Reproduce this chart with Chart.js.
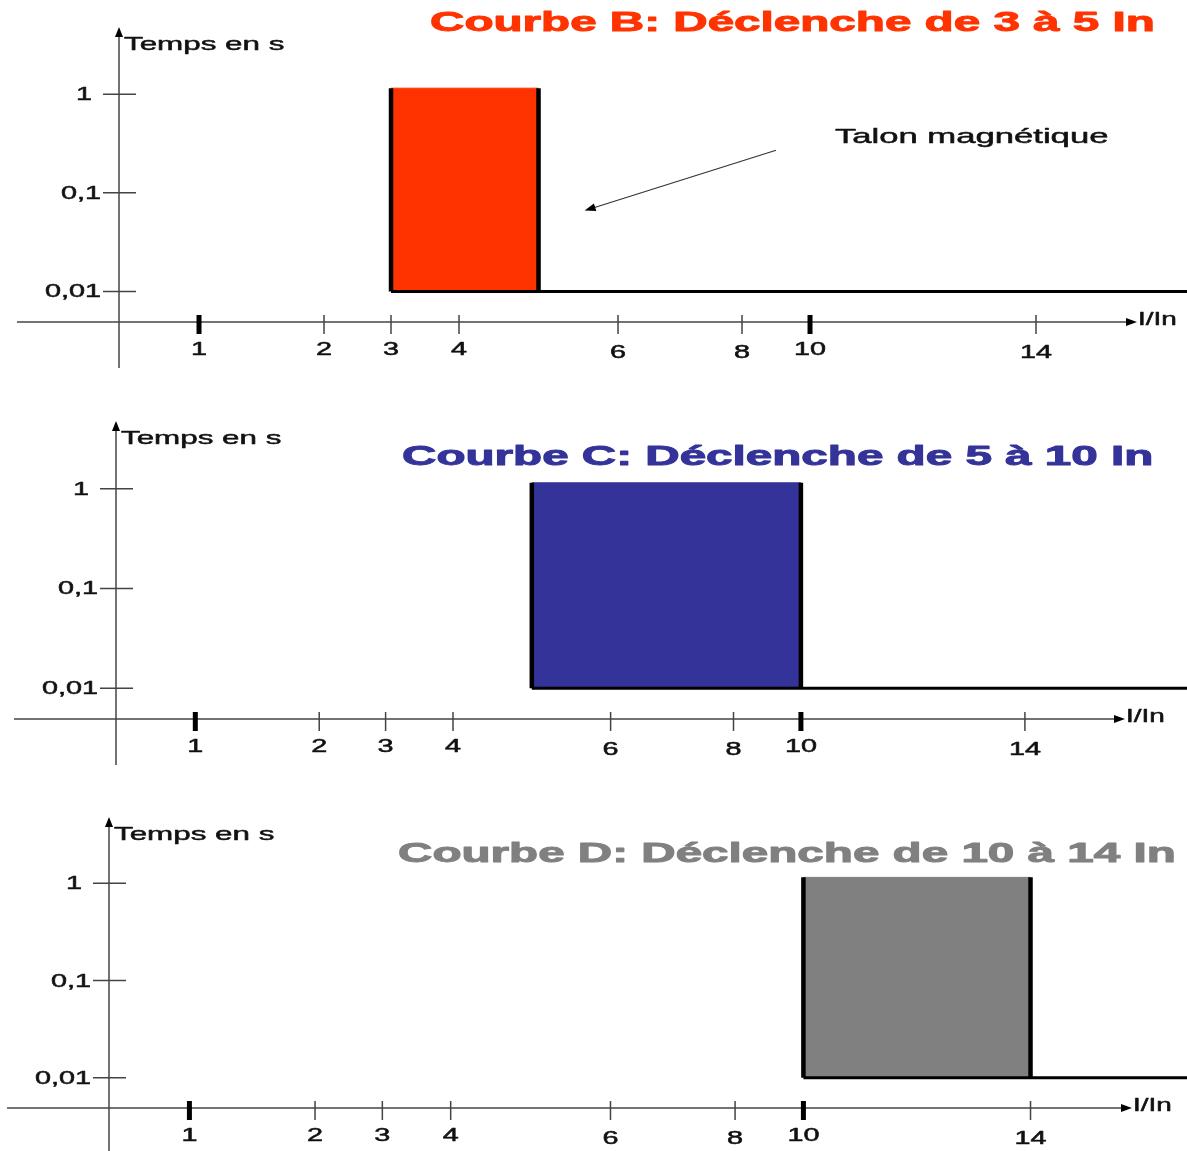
<!DOCTYPE html>
<html lang="fr">
<head>
  <meta charset="UTF-8">
  <title>Courbes de déclenchement</title>
  <script src="https://cdn.jsdelivr.net/npm/chart.js"></script>
  <style>
    body { margin: 0; background: #fff; overflow: hidden; }
    #page { position: relative; width: 1187px; height: 1151px; }
    #page canvas { position: absolute; left: 0; }
  </style>
</head>
<body>
  <div id="page"></div>

  <script>
    // --- données ---
    const courbes = ['B', 'C', 'D'];
    const seuilBas = [3, 5, 10];       // I/In début de zone
    const seuilHaut = [5, 10, 14];     // I/In fin de zone
    const tempsMax = [1.15, 1.15, 1.15];
    const tempsMin = [0.01, 0.01, 0.01];
    const finSeuil = 17.3;             // le trait continue jusqu'au bord
    const couleurs = ['#ff3300', '#333399', '#808080'];
    const titres = [
      'Courbe B: Déclenche de 3 à 5 In',
      'Courbe C: Déclenche de 5 à 10 In',
      'Courbe D: Déclenche de 10 à 14 In'
    ];
    const xTicks = [1, 2, 3, 4, 6, 8, 10, 14];
    const xTicksGras = [1, 10];
    const yTicks = [0.01, 0.1, 1];
    const yLabels = ['0,01', '0,1', '1'];
    const talonTexte = 'Talon magnétique';
    const talonPos = [10.44, 0.318];
    const flecheDe = [9.0, 0.27];
    const flecheVers = [5.58, 0.066];

    // graduation "à main levée" de l'axe I/In : valeur -> fraction de la largeur
    const graduation = [[0, 0], [1, .0786], [2, .2014], [3, .2672], [4, .3340],
                        [6, .4902], [8, .6120], [10, .6788], [14, .9008], [16, 1]];

    class SchemaScale extends Chart.LinearScale {
      fraction(v) {
        const g = graduation;
        let i = 1;
        while (i < g.length - 1 && v > g[i][0]) i++;
        const [v0, f0] = g[i - 1], [v1, f1] = g[i];
        return f0 + (v - v0) * (f1 - f0) / (v1 - v0);
      }
      getPixelForValue(v) {
        return this.left + this.fraction(v) * this.width;
      }
      getValueForPixel(p) {
        const f = (p - this.left) / this.width;
        const g = graduation;
        let i = 1;
        while (i < g.length - 1 && f > g[i][1]) i++;
        const [v0, f0] = g[i - 1], [v1, f1] = g[i];
        return v0 + (f - f0) * (v1 - v0) / (f1 - f0);
      }
    }
    SchemaScale.id = 'schema';
    SchemaScale.defaults = { ticks: { callback: v => String(v) } };
    Chart.register(SchemaScale);

    const W = 1187, H = 385;
    const panneaux = [
      { top: 0,   left: 119, right: 1137, axe: 322, titreX: 430, titreY: 31 },
      { top: 394, left: 116, right: 1125, axe: 325, titreX: 402, titreY: 71 },
      { top: 790, left: 109, right: 1132, axe: 318, titreX: 398, titreY: 72 }
    ];

    // le schéma d'origine est étiré en largeur : on étire le texte aussi
    function texte(ctx, str, x, y, font, color, align, base, etire, epais) {
      ctx.save();
      ctx.font = font;
      ctx.fillStyle = color;
      ctx.strokeStyle = color;
      ctx.lineWidth = epais || 0.5;
      ctx.lineJoin = 'round';
      ctx.textAlign = 'left';
      ctx.textBaseline = base || 'alphabetic';
      const w = ctx.measureText(str).width * etire;
      const x0 = align === 'right' ? x - w : align === 'center' ? x - w / 2 : x;
      ctx.translate(x0, y);
      ctx.scale(etire, 1);
      ctx.fillText(str, 0, 0);
      ctx.strokeText(str, 0, 0);
      ctx.restore();
    }

    function fleche(ctx, x1, y1, x2, y2, long, larg) {
      const a = Math.atan2(y2 - y1, x2 - x1);
      ctx.beginPath();
      ctx.moveTo(x1, y1);
      ctx.lineTo(x2 - Math.cos(a) * long * 0.8, y2 - Math.sin(a) * long * 0.8);
      ctx.stroke();
      ctx.beginPath();
      ctx.moveTo(x2, y2);
      ctx.lineTo(x2 - Math.cos(a) * long - Math.sin(a) * larg, y2 - Math.sin(a) * long + Math.cos(a) * larg);
      ctx.lineTo(x2 - Math.cos(a) * long + Math.sin(a) * larg, y2 - Math.sin(a) * long - Math.cos(a) * larg);
      ctx.closePath();
      ctx.fill();
    }

    const POLICE = '"Liberation Sans", Arial, sans-serif';

    const schemaPlugin = {
      id: 'schema',
      afterDraw(chart) {
        const i = chart.options.plugins.schema.index;
        const ctx = chart.ctx;
        const { left, right, top, bottom } = chart.chartArea;
        const xs = chart.scales.x, ys = chart.scales.y;

        ctx.save();
        ctx.strokeStyle = '#444';
        ctx.fillStyle = '#000';
        ctx.lineWidth = 1.5;
        // axes avec flèches
        fleche(ctx, left - 102, bottom, right, bottom, 11, 4);
        fleche(ctx, left, bottom + 46, left, top, 10, 4);

        // graduations verticales
        yTicks.forEach((v, k) => {
          const py = ys.getPixelForValue(v);
          ctx.strokeStyle = '#444';
          ctx.lineWidth = 1.5;
          ctx.beginPath();
          ctx.moveTo(left - 16, py);
          ctx.lineTo(left + 17, py);
          ctx.stroke();
          const decal = yLabels[k] === '1' ? 27 : 18;
          texte(ctx, yLabels[k], left - decal, py + 1, '18px ' + POLICE, '#111', 'right', 'middle', 1.6);
        });

        // graduations horizontales
        xTicks.forEach(v => {
          const px = xs.getPixelForValue(v);
          const gras = xTicksGras.includes(v);
          ctx.strokeStyle = gras ? '#000' : '#444';
          ctx.lineWidth = gras ? 5 : 1.5;
          ctx.beginPath();
          ctx.moveTo(px, bottom - 7);
          ctx.lineTo(px, bottom + 12);
          ctx.stroke();
          const bas = [6, 8, 14].includes(v) ? 31 : 28;
          texte(ctx, String(v), px, bottom + bas, '18px ' + POLICE, '#111', 'center', 'middle', 1.6);
        });
        ctx.restore();

        texte(ctx, 'I/In', right + 1, bottom - 2, '18px ' + POLICE, '#111', 'left', 'middle', 1.55);
        texte(ctx, 'Temps en s', left + 5, top + 23, '19px ' + POLICE, '#111', 'left', 'alphabetic', 1.65);

        const p = panneaux[i];
        texte(ctx, titres[i], p.titreX, p.titreY, 'bold 28px ' + POLICE, couleurs[i], 'left', 'alphabetic', 1.7, 1);

        if (i === 0) {
          texte(ctx, talonTexte, xs.getPixelForValue(talonPos[0]), ys.getPixelForValue(talonPos[1]),
                '21px ' + POLICE, '#111', 'left', 'alphabetic', 1.65);
          ctx.save();
          ctx.strokeStyle = '#333';
          ctx.fillStyle = '#000';
          ctx.lineWidth = 1.2;
          fleche(ctx, xs.getPixelForValue(flecheDe[0]), ys.getPixelForValue(flecheDe[1]),
                 xs.getPixelForValue(flecheVers[0]), ys.getPixelForValue(flecheVers[1]), 11, 4);
          ctx.restore();
        }
      }
    };

    function creer(i) {
      const p = panneaux[i];
      const canvas = document.createElement('canvas');
      canvas.width = W;
      canvas.height = H;
      canvas.style.top = p.top + 'px';
      canvas.style.width = W + 'px';
      canvas.style.height = H + 'px';
      document.getElementById('page').appendChild(canvas);

      return new Chart(canvas, {
        type: 'line',
        data: {
          datasets: [
            {
              label: 'Courbe ' + courbes[i],
              data: [{ x: seuilBas[i], y: tempsMax[i] }, { x: seuilHaut[i], y: tempsMax[i] }],
              backgroundColor: couleurs[i],
              borderColor: couleurs[i],
              borderWidth: 1,
              fill: { value: tempsMin[i] },
              pointRadius: 0,
              order: 3
            },
            {
              label: 'bords',
              data: [
                { x: seuilBas[i], y: tempsMax[i] }, { x: seuilBas[i], y: tempsMin[i] },
                { x: seuilBas[i], y: null },
                { x: seuilHaut[i], y: tempsMin[i] }, { x: seuilHaut[i], y: tempsMax[i] }
              ],
              borderColor: '#000',
              borderWidth: 4.5,
              pointRadius: 0,
              fill: false,
              order: 1
            },
            {
              label: 'seuil',
              data: [{ x: seuilBas[i], y: tempsMin[i] }, { x: finSeuil, y: tempsMin[i] }],
              borderColor: '#000',
              borderWidth: 3,
              pointRadius: 0,
              fill: false,
              clip: false,
              order: 2
            }
          ]
        },
        options: {
          responsive: false,
          animation: false,
          events: [],
          layout: { padding: { top: 27, right: W - p.right, left: 0, bottom: 0 } },
          plugins: {
            legend: { display: false },
            tooltip: { enabled: false },
            schema: { index: i }
          },
          scales: {
            x: {
              type: 'schema',
              min: 0,
              max: 16,
              grid: { display: false },
              border: { display: false },
              ticks: { display: false },
              afterBuildTicks: s => { s.ticks = xTicks.map(v => ({ value: v })); },
              afterFit: s => { s.height = H - p.axe; }
            },
            y: {
              type: 'logarithmic',
              min: 0.0049,
              max: 4.8,
              grid: { display: false },
              border: { display: false },
              ticks: { display: false },
              afterBuildTicks: s => { s.ticks = yTicks.map(v => ({ value: v })); },
              afterFit: s => { s.width = p.left; }
            }
          }
        },
        plugins: [schemaPlugin]
      });
    }

    courbes.forEach((c, i) => creer(i));
  </script>
</body>
</html>
